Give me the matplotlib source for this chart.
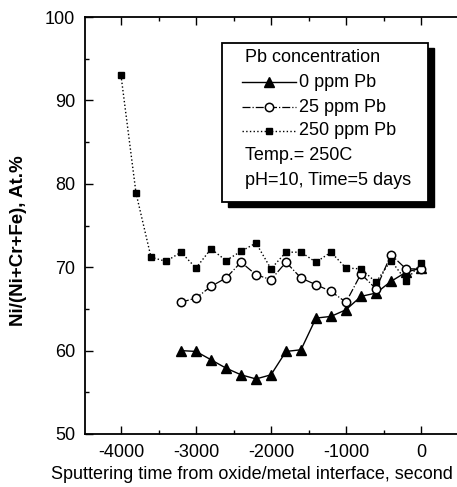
import matplotlib
matplotlib.use("Agg")
import matplotlib.pyplot as plt
from matplotlib.patches import Rectangle
from matplotlib.lines import Line2D
from matplotlib.ticker import MultipleLocator

plt.rcParams['font.family'] = ['Liberation Sans', 'DejaVu Sans']
plt.rcParams['axes.unicode_minus'] = False

# Data
t_250 = [-4000, -3800, -3600, -3400, -3200, -3000, -2800, -2600, -2400, -2200, -2000,
         -1800, -1600, -1400, -1200, -1000, -800, -600, -400, -200, 0]
v_250 = [93.0, 78.9, 71.2, 70.7, 71.8, 69.9, 72.2, 70.8, 71.9, 72.9, 69.8,
         71.8, 71.8, 70.6, 71.8, 69.9, 69.8, 68.2, 70.8, 68.4, 70.5]

t_25 = [-3200, -3000, -2800, -2600, -2400, -2200, -2000, -1800, -1600, -1400, -1200,
        -1000, -800, -600, -400, -200, 0]
v_25 = [65.8, 66.3, 67.7, 68.7, 70.6, 69.1, 68.5, 70.6, 68.7, 67.9, 67.1,
        65.8, 69.2, 67.4, 71.5, 69.8, 69.8]

t_0 = [-3200, -3000, -2800, -2600, -2400, -2200, -2000, -1800, -1600, -1400, -1200,
       -1000, -800, -600, -400, -200, 0]
v_0 = [60.0, 59.9, 58.9, 57.9, 57.1, 56.6, 57.1, 59.9, 60.1, 63.9, 64.1,
       64.9, 66.5, 66.9, 68.3, 69.4, 69.9]

legend_title = "Pb concentration"
labels = ["0 ppm Pb", "25 ppm Pb", "250 ppm Pb"]
notes = ["Temp.= 250C", "pH=10, Time=5 days"]

FS = 13

fig = plt.figure(figsize=(4.57, 4.87), dpi=100)
ax = fig.add_axes([85/457, 1-434/487, 372/457, 417/487])

s0 = dict(color='black', linestyle='-', linewidth=1.0, marker='^', markersize=7,
          markerfacecolor='black', markeredgecolor='black')
s25 = dict(color='black', linestyle='-.', linewidth=0.9, marker='o', markersize=6,
           markerfacecolor='white', markeredgecolor='black', markeredgewidth=1.1)
s250 = dict(color='black', linestyle=':', linewidth=1.0, marker='s', markersize=4.8,
            markerfacecolor='black', markeredgecolor='black')

ax.plot(t_0, v_0, **s0)
ax.plot(t_25, v_25, **s25)
ax.plot(t_250, v_250, **s250)

ax.set_xlim(-4480, 480)
ax.set_ylim(50, 100)
ax.xaxis.set_minor_locator(MultipleLocator(500))
ax.yaxis.set_major_locator(MultipleLocator(10))
ax.yaxis.set_minor_locator(MultipleLocator(5))
ax.set_xticks([-4000, -3000, -2000, -1000, 0])
ax.tick_params(which='both', direction='in', top=True, right=False, labelsize=FS, width=1.0)
ax.tick_params(which='major', length=6, pad=7)
ax.tick_params(which='minor', length=3)
ax.spines['right'].set_visible(False)
for s in ['left', 'bottom', 'top']:
    ax.spines[s].set_linewidth(1.3)

ax.set_xlabel("Sputtering time from oxide/metal interface, second", fontsize=FS, va='center')
ax.xaxis.set_label_coords(0.449, -0.098)
ax.set_ylabel("Ni/(Ni+Cr+Fe), At.%", fontsize=13.5, fontweight='bold')
ax.yaxis.set_label_coords(-0.156, 0.463)

# Legend box with shadow
bx0, bx1 = 0.368, 0.922
by0, by1 = 0.556, 0.938
sdx, sdy = 6/372, 5/417
ax.add_patch(Rectangle((bx0 + sdx, by0 - sdy), bx1 - bx0, by1 - by0, transform=ax.transAxes,
                       facecolor='black', edgecolor='black', zorder=5, clip_on=False))
ax.add_patch(Rectangle((bx0, by0), bx1 - bx0, by1 - by0, transform=ax.transAxes,
                       facecolor='white', edgecolor='black', linewidth=1.3, zorder=6, clip_on=False))

rows = [0.904, 0.844, 0.784, 0.727, 0.669, 0.607]
tx = 0.430
ax.text(tx, rows[0], legend_title, transform=ax.transAxes, fontsize=FS, va='center', ha='left', zorder=7)
for y, lab, st in zip(rows[1:4], labels, [s0, s25, s250]):
    ln = Line2D([0.422, 0.567], [y, y], transform=ax.transAxes, zorder=7,
                **{k: v for k, v in st.items() if not k.startswith('marker')})
    ax.add_line(ln)
    mk = Line2D([0.4945], [y], transform=ax.transAxes, zorder=8, linestyle='none',
                **{k: v for k, v in st.items() if k.startswith('marker')})
    ax.add_line(mk)
    ax.text(0.575, y, lab, transform=ax.transAxes, fontsize=FS, va='center', ha='left', zorder=7)
for y, note in zip(rows[4:], notes):
    ax.text(tx, y, note, transform=ax.transAxes, fontsize=FS, va='center', ha='left', zorder=7)

fig.savefig("out.png", dpi=100)
